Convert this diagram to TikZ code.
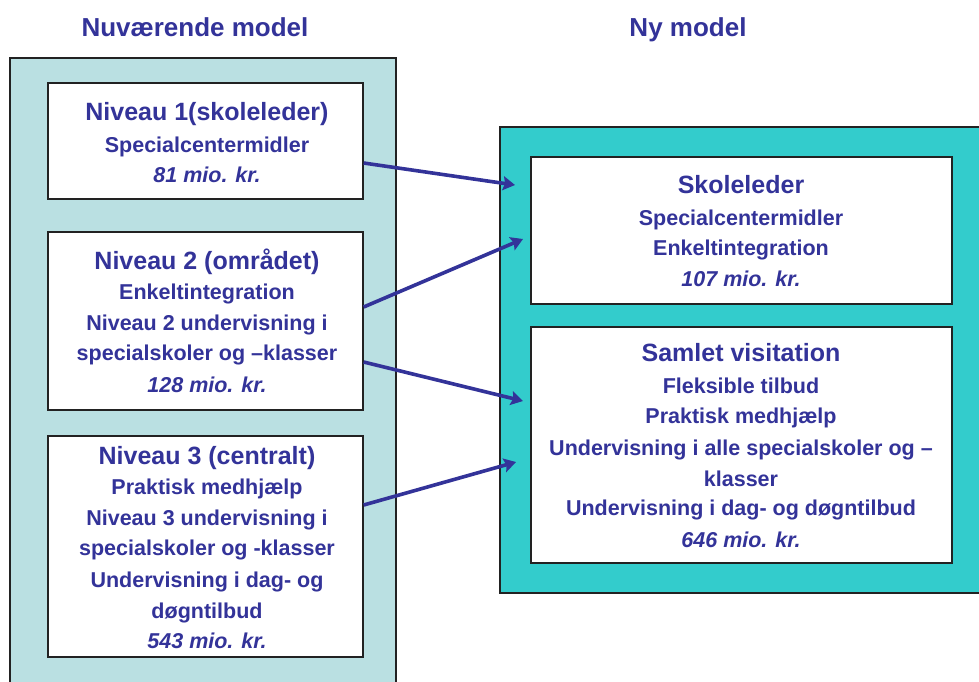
\documentclass[tikz,border=0pt]{standalone}
\usepackage{fontspec}
\setmainfont{Liberation Sans}
\usetikzlibrary{arrows.meta}
\definecolor{txtblue}{HTML}{333399}
\definecolor{lightteal}{HTML}{BAE0E2}
\definecolor{teal2}{HTML}{33CCCC}
\definecolor{edge}{HTML}{222222}
\begin{document}
\begin{tikzpicture}[x=1pt,y=-1pt,
  outerbox/.style={draw=edge,line width=1.6pt,rectangle,inner sep=0pt},
  innerbox/.style={draw=edge,line width=1.3pt,fill=white,rectangle,inner sep=0pt},
  ttl/.style={anchor=base,text=txtblue,font=\fontsize{26}{30}\selectfont\bfseries,inner sep=0pt},
  head/.style={anchor=base,text=txtblue,font=\fontsize{25}{30}\selectfont\bfseries,inner sep=0pt},
  body/.style={anchor=base,text=txtblue,font=\fontsize{21.5}{26}\selectfont\bfseries,inner sep=0pt},
  amt/.style={anchor=base,text=txtblue,font=\fontsize{21.5}{26}\selectfont\bfseries\itshape,inner sep=0pt},
  conn/.style={draw=txtblue,line width=3.6pt,-{Stealth[length=12pt,width=14pt,inset=2pt]}}
]
\useasboundingbox (0,0) rectangle (979,681);
\fill[white] (0,0) rectangle (979,681);

% titles
\node[ttl] (t1) at (195,36) {Nuværende model};
\node[ttl] (t2) at (688,36) {Ny model};

% outer boxes
\node[outerbox,fill=lightteal,minimum width=386pt,minimum height=642pt] (L) at (203,379) {};
\node[outerbox,fill=teal2,minimum width=500pt,minimum height=466pt] (R) at (750,360) {};

% left inner boxes
\node[innerbox,minimum width=315pt,minimum height=116pt] (n1) at (205.5,141) {};
\node[innerbox,minimum width=315pt,minimum height=178pt] (n2) at (205.5,321) {};
\node[innerbox,minimum width=315pt,minimum height=221pt] (n3) at (205.5,546.5) {};

% right inner boxes
\node[innerbox,minimum width=421pt,minimum height=147pt] (m1) at (741.5,230.5) {};
\node[innerbox,minimum width=421pt,minimum height=236pt] (m2) at (741.5,445) {};

% box 1 text
\node[head] (n1a) at (207,120) {Niveau 1(skoleleder)};
\node[body] (n1b) at (207,152) {Specialcentermidler};
\node[amt]  (n1c) at (207,182) {81 mio. kr.};

% box 2 text
\node[head] (n2a) at (207,269) {Niveau 2 (området)};
\node[body] (n2b) at (207,299) {Enkeltintegration};
\node[body] (n2c) at (207,330) {Niveau 2 undervisning i};
\node[body] (n2d) at (207,360) {specialskoler og –klasser};
\node[amt]  (n2e) at (207,392) {128 mio. kr.};

% box 3 text
\node[head] (n3a) at (207,464) {Niveau 3 (centralt)};
\node[body] (n3b) at (207,494) {Praktisk medhjælp};
\node[body] (n3c) at (207,525) {Niveau 3 undervisning i};
\node[body] (n3d) at (207,555) {specialskoler og -klasser};
\node[body] (n3e) at (207,587) {Undervisning i dag- og};
\node[body] (n3f) at (207,618) {døgntilbud};
\node[amt]  (n3g) at (207,648) {543 mio. kr.};

% right box 1 text
\node[head] (m1a) at (741,193) {Skoleleder};
\node[body] (m1b) at (741,225) {Specialcentermidler};
\node[body] (m1c) at (741,255) {Enkeltintegration};
\node[amt]  (m1d) at (741,286) {107 mio. kr.};

% right box 2 text
\node[head] (m2a) at (741,361) {Samlet visitation};
\node[body] (m2b) at (741,393) {Fleksible tilbud};
\node[body] (m2c) at (741,423) {Praktisk medhjælp};
\node[body] (m2d) at (741,455) {Undervisning i alle specialskoler og –};
\node[body] (m2e) at (741,486) {klasser};
\node[body] (m2f) at (741,515) {Undervisning i dag- og døgntilbud};
\node[amt]  (m2g) at (741,547) {646 mio. kr.};

% arrow tips
\coordinate (p1) at (515,185);
\coordinate (p2) at (523,239);
\coordinate (p3) at (523,401);
\coordinate (p4) at (516,462);

\draw[conn] ([yshift=-22pt]n1.east) -- (p1);
\draw[conn] ([yshift=14pt]n2.east) -- (p2);
\draw[conn] ([yshift=-41pt]n2.east) -- (p3);
\draw[conn] ([yshift=41.5pt]n3.east) -- (p4);
\end{tikzpicture}
\end{document}
